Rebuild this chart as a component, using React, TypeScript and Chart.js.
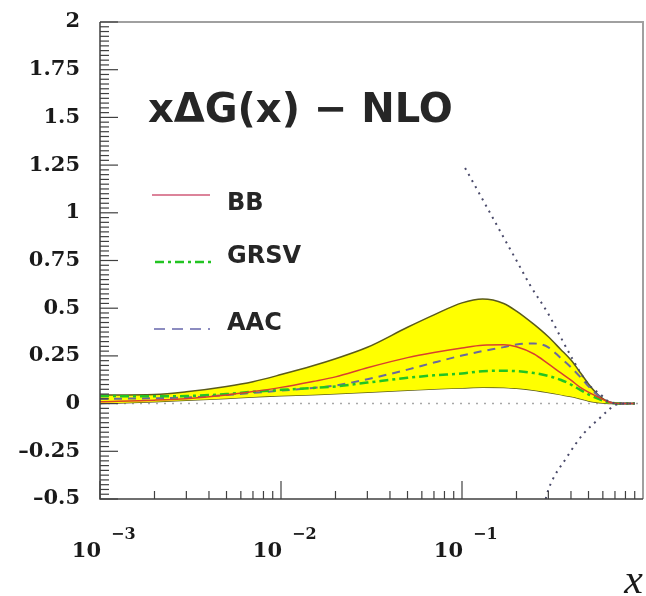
import React, { useEffect, useRef } from "react";
import { Chart, registerables } from "chart.js";

Chart.register(...registerables);

// ---- data ----
const xGrid = [0.001, 0.002, 0.003, 0.005, 0.007, 0.01, 0.015, 0.02, 0.03, 0.05, 0.07, 0.1, 0.13, 0.17, 0.2, 0.25, 0.3, 0.35, 0.4, 0.45, 0.5, 0.55, 0.6, 0.65, 0.7, 0.8, 0.9];
const bandUpper = [0.045, 0.048, 0.062, 0.09, 0.115, 0.152, 0.198, 0.235, 0.295, 0.4, 0.465, 0.528, 0.548, 0.525, 0.485, 0.415, 0.35, 0.285, 0.228, 0.163, 0.103, 0.057, 0.026, 0.008, 0.002, 0, 0];
const bandLower = [0, 0.01, 0.017, 0.027, 0.035, 0.041, 0.047, 0.052, 0.06, 0.07, 0.077, 0.082, 0.086, 0.085, 0.08, 0.07, 0.058, 0.047, 0.037, 0.025, 0.014, 0.007, 0.003, 0.001, 0, 0, 0];
const bbValues = [0.01, 0.018, 0.026, 0.045, 0.063, 0.085, 0.116, 0.14, 0.188, 0.241, 0.268, 0.292, 0.306, 0.308, 0.298, 0.26, 0.208, 0.162, 0.123, 0.085, 0.06, 0.04, 0.022, 0.008, 0.002, 0, 0];
const grsvValues = [0.04, 0.038, 0.04, 0.05, 0.062, 0.072, 0.082, 0.09, 0.11, 0.135, 0.148, 0.158, 0.17, 0.172, 0.17, 0.16, 0.145, 0.125, 0.1, 0.072, 0.048, 0.03, 0.016, 0.006, 0.002, 0, 0];
const aacValues = [0.025, 0.028, 0.032, 0.045, 0.056, 0.068, 0.082, 0.095, 0.128, 0.178, 0.215, 0.252, 0.275, 0.296, 0.31, 0.315, 0.295, 0.24, 0.19, 0.14, 0.09, 0.052, 0.026, 0.008, 0.002, 0, 0];

const boundUpperX = [0.104, 0.13, 0.17, 0.2, 0.237, 0.3, 0.35, 0.41, 0.49, 0.6, 0.65, 0.7, 0.8, 0.9];
const boundUpperY = [1.235, 1.07, 0.87, 0.75, 0.623, 0.47, 0.35, 0.23, 0.11, 0.037, 0.008, 0.002, 0, 0];
const boundLowerX = [0.29, 0.3, 0.38, 0.467, 0.578, 0.65, 0.7, 0.8, 0.9];
const boundLowerY = [-0.5, -0.45, -0.28, -0.16, -0.075, -0.03, -0.008, 0, 0];

const zeroX = [0.001, 1];
const zeroY = [0, 0];

const xDecades = [-3, -2, -1];
const titleText = "xΔG(x) − NLO";
const legendNames = ["BB", "GRSV", "AAC"];
const axisTitle = "x";

const pts = (xs: number[], ys: number[]) => xs.map((x, i) => ({ x, y: ys[i] }));

const COLORS = {
  band: "#ffff00",
  bandEdge: "#5b5b1a",
  bb: "#d8402e",
  bbLegend: "#d05a78",
  grsv: "#22c422",
  aac: "#6a6a9c",
  aacLegend: "#8c8cc0",
  bound: "#4a4a6a",
  zero: "#a8a8a8",
};

const decorPlugin = {
  id: "decor",
  afterDatasetsDraw(chart: any) {
    const { ctx, chartArea: a, scales } = chart;
    const xs = scales.x;
    const ys = scales.y;
    ctx.save();
    ctx.lineWidth = 2;
    ctx.strokeStyle = "#a0a0a0";
    ctx.beginPath();
    ctx.moveTo(a.left, a.top);
    ctx.lineTo(a.right, a.top);
    ctx.lineTo(a.right, a.bottom);
    ctx.stroke();
    ctx.lineWidth = 1.5;
    ctx.strokeStyle = "#404040";
    ctx.beginPath();
    ctx.moveTo(a.left, a.top);
    ctx.lineTo(a.left, a.bottom);
    ctx.lineTo(a.right, a.bottom);
    ctx.stroke();
    ctx.lineWidth = 1.2;
    for (let i = 0; i <= 100; i++) {
      const v = -0.5 + i * 0.025;
      const y = ys.getPixelForValue(v);
      const len = i % 10 === 0 ? 18 : 9;
      ctx.beginPath();
      ctx.moveTo(a.left, y);
      ctx.lineTo(a.left + len, y);
      ctx.stroke();
    }
    for (const d of xDecades) {
      for (let m = 1; m <= 9; m++) {
        const v = m * Math.pow(10, d);
        const x = xs.getPixelForValue(v);
        const len = m === 1 ? 18 : 8;
        ctx.beginPath();
        ctx.moveTo(x, a.bottom);
        ctx.lineTo(x, a.bottom - len);
        ctx.stroke();
      }
    }
    ctx.restore();
  },
  afterDraw(chart: any) {
    const { ctx, scales } = chart;
    const xs = scales.x;
    ctx.save();
    ctx.fillStyle = "#1a1a1a";
    ctx.textBaseline = "alphabetic";
    for (const d of xDecades) {
      const px = xs.getPixelForValue(Math.pow(10, d));
      ctx.font = 'bold 21px "DejaVu Serif"';
      ctx.textAlign = "right";
      ctx.fillText("10", px + 1, 557);
      ctx.font = 'bold 16px "DejaVu Serif"';
      ctx.textAlign = "left";
      ctx.fillText("−" + Math.abs(d), px + 11, 539);
    }
    ctx.font = 'italic 42px "Liberation Serif"';
    ctx.textAlign = "right";
    ctx.fillText(axisTitle, 643, 593);
    ctx.font = 'bold 40px "DejaVu Sans"';
    ctx.textAlign = "left";
    ctx.fillStyle = "#262626";
    ctx.fillText(titleText, 148, 122);
    ctx.font = 'bold 24px "DejaVu Sans"';
    ctx.fillText(legendNames[0], 227, 210);
    ctx.fillText(legendNames[1], 227, 263);
    ctx.fillText(legendNames[2], 227, 330);
    ctx.lineWidth = 1.5;
    ctx.strokeStyle = COLORS.bbLegend;
    ctx.beginPath();
    ctx.moveTo(152, 195);
    ctx.lineTo(210, 195);
    ctx.stroke();
    ctx.lineWidth = 2.5;
    ctx.strokeStyle = COLORS.grsv;
    ctx.setLineDash([9, 4, 3, 4]);
    ctx.beginPath();
    ctx.moveTo(155, 262);
    ctx.lineTo(212, 262);
    ctx.stroke();
    ctx.lineWidth = 2;
    ctx.strokeStyle = COLORS.aacLegend;
    ctx.setLineDash([11, 7]);
    ctx.beginPath();
    ctx.moveTo(154, 329);
    ctx.lineTo(210, 329);
    ctx.stroke();
    ctx.restore();
  },
};

export default function App() {
  const ref = useRef<HTMLCanvasElement | null>(null);
  useEffect(() => {
    if (!ref.current) return;
    const common = { pointRadius: 0, cubicInterpolationMode: "monotone" as const };
    const chart = new Chart(ref.current, {
      type: "line",
      data: {
        datasets: [
          { label: "zero", data: pts(zeroX, zeroY), borderColor: COLORS.zero, borderWidth: 1.5, borderDash: [2, 6], fill: false, order: 7, ...common },
          { label: "band upper", data: pts(xGrid, bandUpper), borderColor: COLORS.bandEdge, borderWidth: 1.5, backgroundColor: COLORS.band, fill: "+1", order: 5, ...common },
          { label: "band lower", data: pts(xGrid, bandLower), borderColor: COLORS.bandEdge, borderWidth: 1.5, fill: false, order: 5, ...common },
          { label: "GRSV", data: pts(xGrid, grsvValues), borderColor: COLORS.grsv, borderWidth: 2.5, borderDash: [9, 4, 3, 4], fill: false, order: 3, ...common },
          { label: "AAC", data: pts(xGrid, aacValues), borderColor: COLORS.aac, borderWidth: 2, borderDash: [8, 6], fill: false, order: 3, ...common },
          { label: "BB", data: pts(xGrid, bbValues), borderColor: COLORS.bb, borderWidth: 1.5, fill: false, order: 2, ...common },
          { label: "bound+", data: pts(boundUpperX, boundUpperY), borderColor: COLORS.bound, borderWidth: 2, borderDash: [2, 5], fill: false, order: 1, ...common },
          { label: "bound-", data: pts(boundLowerX, boundLowerY), borderColor: COLORS.bound, borderWidth: 2, borderDash: [2, 5], fill: false, order: 1, ...common },
        ],
      },
      options: {
        responsive: false,
        animation: false,
        layout: { padding: { top: 22, right: 3, left: 0, bottom: 0 } },
        plugins: {
          legend: { display: false },
          tooltip: { enabled: false },
          title: { display: false },
        },
        scales: {
          x: {
            type: "logarithmic",
            min: 0.001,
            max: 1,
            grid: { display: false, drawTicks: false },
            border: { display: false },
            ticks: { display: false },
            afterFit: (s: any) => {
              s.height = 97;
              s.paddingLeft = 0;
              s.paddingRight = 0;
            },
          },
          y: {
            type: "linear",
            min: -0.5,
            max: 2,
            grid: { display: false, drawTicks: false },
            border: { display: false },
            ticks: {
              stepSize: 0.25,
              autoSkip: false,
              padding: 20,
              color: "#1a1a1a",
              font: { family: '"DejaVu Serif"', weight: "bold", size: 21 },
              callback: (v: any) => {
                const n = Math.round(Number(v) * 100) / 100;
                if (Math.abs(n) < 1e-9) return "0";
                return (n < 0 ? "–" : "") + String(Math.abs(n));
              },
            },
            afterFit: (s: any) => {
              s.width = 100;
              s.paddingTop = 0;
              s.paddingBottom = 0;
            },
          },
        },
      },
      plugins: [decorPlugin],
    });
    return () => chart.destroy();
  }, []);
  return (
    <div style={{ position: "absolute", left: 0, top: 0, width: 646, height: 596, background: "#fff" }}>
      <canvas ref={ref} width={646} height={596} style={{ display: "block" }} />
    </div>
  );
}
